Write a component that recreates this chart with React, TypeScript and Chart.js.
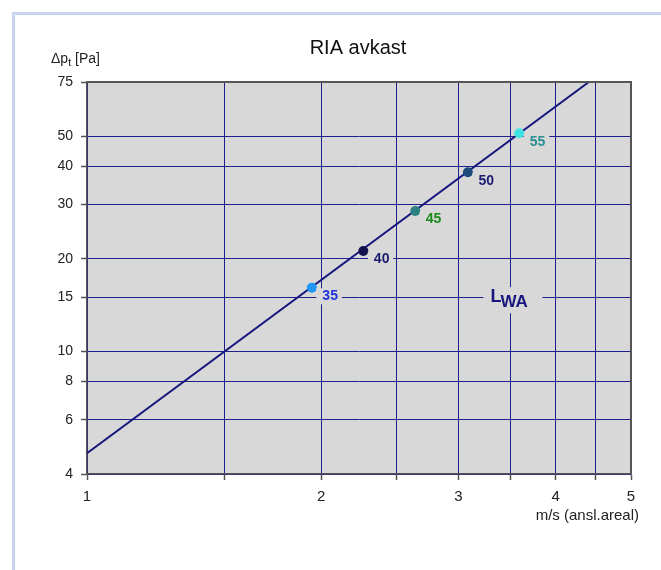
import React, { useEffect, useRef } from "react";
import { Chart, registerables } from "chart.js";

Chart.register(...registerables);

const X_GRID = [1, 1.5, 2, 2.5, 3, 3.5, 4, 4.5, 5];
const X_LABELS = [1, 2, 3, 4, 5];
const Y_TICKS = [4, 6, 8, 10, 15, 20, 30, 40, 50, 75];
const LINE_X = [1, 4.414];
const LINE_Y = [4.67, 75];
const SIZES = ["35", "40", "45", "50", "55"];
const POINT_X = [1.945, 2.265, 2.641, 3.086, 3.592];
const POINT_Y = [16.1, 21.2, 28.6, 38.2, 51.1];
const POINT_COLORS = ["#2196f3", "#12124e", "#2a8080", "#1c4a7c", "#3fe3e3"];
const LABEL_COLORS = ["#2233e0", "#1a1a70", "#1a8a1a", "#1a1a70", "#2a9090"];
const TITLE = "RIA avkast";
const X_TITLE = "m/s (ansl.areal)";
const CURVE_LABEL = { main: "L", sub: "WA", x: 3.5, y: 15 };

const FONT = "'Liberation Sans', Arial, Helvetica, sans-serif";
const PLOT_BG = "#d8d8d8";
const GRID = "#20208c";
const AXIS = "#555555";
const NAVY = "#16167e";

export default function App() {
  const ref = useRef<HTMLCanvasElement | null>(null);

  useEffect(() => {
    if (!ref.current) return;

    const bgPlugin = {
      id: "plotbg",
      beforeDraw(chart: any) {
        const { ctx, chartArea: a } = chart;
        ctx.save();
        ctx.fillStyle = PLOT_BG;
        ctx.fillRect(a.left, a.top, a.right - a.left, a.bottom - a.top);
        ctx.restore();
      },
    };

    const labelPlugin = {
      id: "labels",
      afterDatasetsDraw(chart: any) {
        const { ctx } = chart;
        const xs = chart.scales.x;
        const ys = chart.scales.y;
        ctx.save();
        ctx.font = `bold 14px ${FONT}`;
        ctx.textBaseline = "middle";
        ctx.textAlign = "left";
        SIZES.forEach((s, i) => {
          const px = xs.getPixelForValue(POINT_X[i]);
          const py = ys.getPixelForValue(POINT_Y[i]);
          const w = ctx.measureText(s).width;
          const tx = px + 10.5;
          const ty = py + 8.5;
          ctx.fillStyle = PLOT_BG;
          ctx.fillRect(tx - 6, ty - 8, w + 10, 16);
          ctx.fillStyle = LABEL_COLORS[i];
          ctx.fillText(s, tx, ty);
        });

        // curve label
        const cx = xs.getPixelForValue(CURVE_LABEL.x);
        const cy = ys.getPixelForValue(CURVE_LABEL.y);
        ctx.font = `bold 18px ${FONT}`;
        const wL = ctx.measureText(CURVE_LABEL.main).width;
        const wS = ctx.measureText(CURVE_LABEL.sub).width;
        const start = cx - (wL + wS) / 2;
        ctx.fillStyle = PLOT_BG;
        ctx.fillRect(start - 7, cy - 10, wL + wS + 19, 26);
        ctx.fillStyle = NAVY;
        ctx.textBaseline = "alphabetic";
        ctx.fillText(CURVE_LABEL.main, start, cy + 5);
        ctx.font = `bold 17px ${FONT}`;
        ctx.fillText(CURVE_LABEL.sub, start + wL - 1, cy + 10);
        ctx.restore();
      },
      afterDraw(chart: any) {
        const { ctx, chartArea: a } = chart;
        ctx.save();
        ctx.strokeStyle = AXIS;
        ctx.lineWidth = 2;
        ctx.beginPath();
        ctx.moveTo(a.left, a.top);
        ctx.lineTo(a.right, a.top);
        ctx.lineTo(a.right, a.bottom);
        ctx.stroke();

        ctx.fillStyle = "#111";
        ctx.font = `20px ${FONT}`;
        ctx.textAlign = "center";
        ctx.textBaseline = "alphabetic";
        ctx.fillText(TITLE, 358, 54);

        ctx.textAlign = "left";
        ctx.font = `14px ${FONT}`;
        ctx.fillStyle = "#222";
        let x = 51;
        ctx.fillText("\u0394p", x, 63);
        x += ctx.measureText("\u0394p").width;
        ctx.font = `11px ${FONT}`;
        ctx.fillText("t", x, 66);
        x += ctx.measureText("t").width;
        ctx.font = `14px ${FONT}`;
        ctx.fillText(" [Pa]", x, 63);

        ctx.font = `15px ${FONT}`;
        ctx.textAlign = "right";
        ctx.fillText(X_TITLE, 639, 520);
        ctx.restore();
      },
    };

    const chart = new Chart(ref.current, {
      type: "scatter",
      data: {
        datasets: [
          {
            data: LINE_X.map((v, i) => ({ x: v, y: LINE_Y[i] })),
            showLine: true,
            borderColor: NAVY,
            borderWidth: 2,
            pointRadius: 0,
            order: 2,
          },
          {
            data: POINT_X.map((v, i) => ({ x: v, y: POINT_Y[i] })),
            showLine: false,
            pointRadius: 5,
            pointBackgroundColor: POINT_COLORS,
            pointBorderColor: POINT_COLORS,
            pointBorderWidth: 0,
            order: 1,
          },
        ],
      },
      options: {
        animation: false,
        responsive: false,
        layout: { padding: { left: 0, right: 30, top: 82, bottom: 66 } },
        plugins: {
          legend: { display: false },
          tooltip: { enabled: false },
          title: { display: false },
        },
        scales: {
          x: {
            type: "logarithmic",
            min: 1,
            max: 5,
            afterBuildTicks: (s: any) => {
              s.ticks = X_GRID.map((v) => ({ value: v }));
            },
            afterFit: (s: any) => {
              s.height = 30;
            },
            ticks: {
              autoSkip: false,
              maxRotation: 0,
              padding: 8,
              color: "#222",
              font: { family: FONT, size: 15 },
              callback: (v: any) => (X_LABELS.includes(Number(v)) ? String(v) : ""),
            },
            grid: {
              color: (c: any) => (c.tick && c.tick.value === 5 ? AXIS : GRID),
              lineWidth: 1,
              tickLength: 6,
              tickColor: AXIS,
              tickWidth: 1.5,
            },
            border: { color: AXIS, width: 1.5 },
          },
          y: {
            type: "logarithmic",
            min: 4,
            max: 75,
            afterBuildTicks: (s: any) => {
              s.ticks = Y_TICKS.map((v) => ({ value: v }));
            },
            afterFit: (s: any) => {
              s.width = 87;
            },
            ticks: {
              autoSkip: false,
              padding: 8,
              color: "#222",
              font: { family: FONT, size: 14 },
              callback: (v: any) => String(v),
            },
            grid: {
              color: (c: any) => (c.tick && c.tick.value === 75 ? AXIS : GRID),
              lineWidth: 1,
              tickLength: 6,
              tickColor: AXIS,
              tickWidth: 1.5,
            },
            border: { color: AXIS, width: 1.5 },
          },
        },
      },
      plugins: [bgPlugin, labelPlugin],
    });

    return () => chart.destroy();
  }, []);

  return (
    <div style={{ position: "absolute", left: 0, top: 0, width: 661, height: 570, overflow: "hidden", background: "#fff" }}>
      <div
        style={{
          position: "absolute",
          left: 12,
          top: 12,
          width: 700,
          height: 600,
          borderLeft: "3px solid #c9d3f2",
          borderTop: "3px solid #c9d3f2",
        }}
      />
      <canvas ref={ref} width={661} height={570} style={{ position: "absolute", left: 0, top: 0, width: 661, height: 570 }} />
    </div>
  );
}
